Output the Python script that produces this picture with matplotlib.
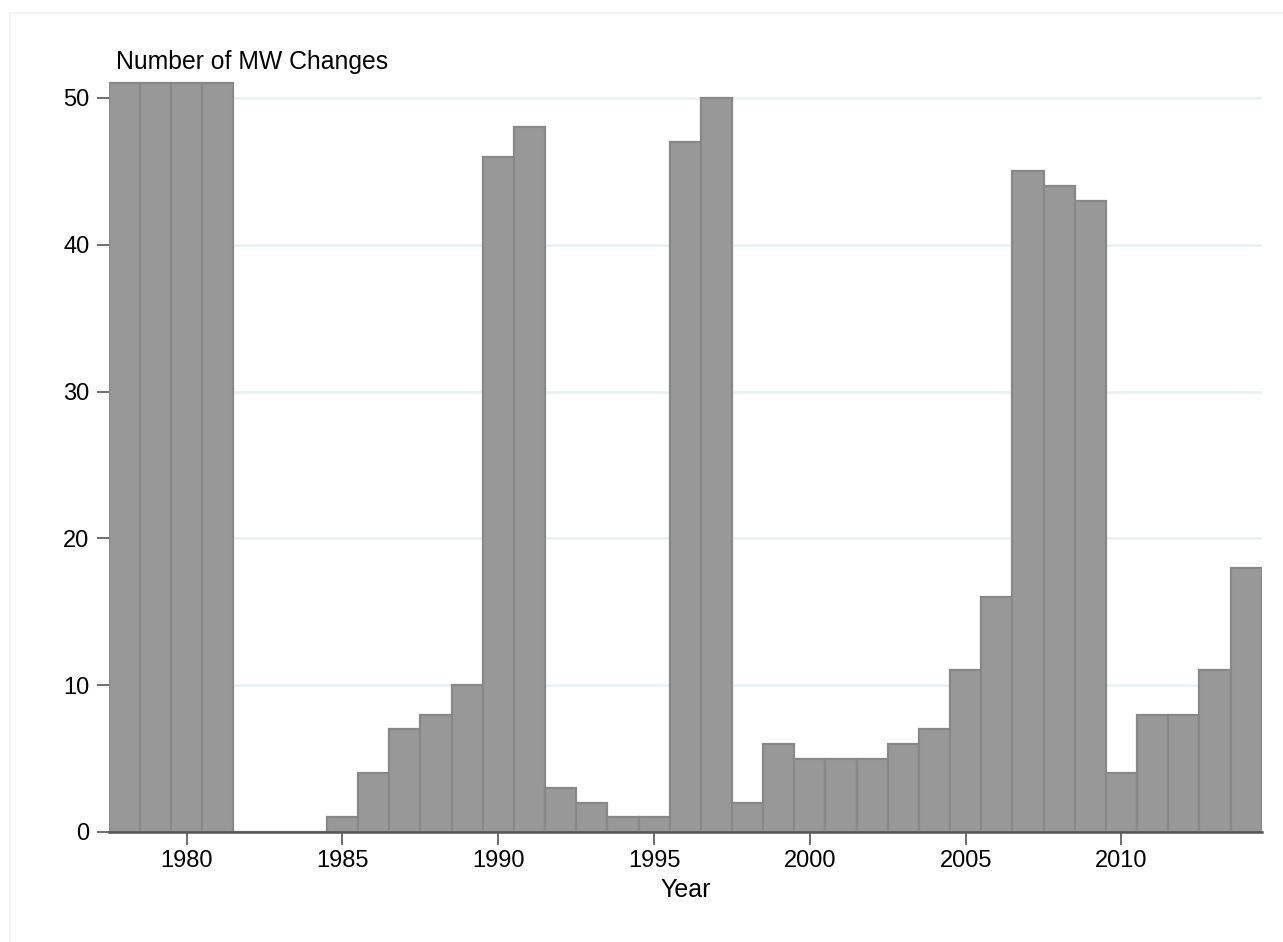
import numpy as np
import matplotlib.pyplot as plt
from matplotlib.patches import Rectangle

plt.rcParams['font.family'] = ['Liberation Sans', 'DejaVu Sans']

# minimum wage changes per year
years = np.arange(1978, 2015)
changes = [51, 51, 51, 51, 0, 0, 0,
           1, 4, 7, 8, 10, 46, 48, 3, 2, 1, 1, 47, 50, 2,
           6, 5, 5, 5, 6, 7, 11, 16, 45, 44, 43, 4, 8, 8, 11, 18]
xticks = [1980, 1985, 1990, 1995, 2000, 2005, 2010]
yticks = [0, 10, 20, 30, 40, 50]

fig = plt.figure(figsize=(12.83, 9.42), dpi=100)
fig.patches.append(Rectangle((10 / 1283, -0.1), 1.2, 1.1 - 13 / 942,
                             transform=fig.transFigure, fill=False,
                             edgecolor='#f2f4f4', linewidth=1.5))

ax = fig.add_axes([0.0848, 0.1168, 0.8986, 0.8104])

ax.bar(years, changes, width=1.0, color='#989898', edgecolor='#888888',
       linewidth=1.6, zorder=2)

ax.set_xlim(1977.5, 2014.5)
ax.set_ylim(0, 52)
ax.set_xticks(xticks)
ax.set_yticks(yticks)
ax.grid(axis='y', color='#e9f1f2', linewidth=1.8, zorder=0)
ax.set_axisbelow(True)

for s in ['top', 'right', 'left']:
    ax.spines[s].set_visible(False)
ax.spines['bottom'].set_color('#555555')
ax.spines['bottom'].set_linewidth(1.8)
ax.spines['bottom'].set_zorder(3)

ax.tick_params(axis='x', length=9, width=1.2, color='#555555',
               labelsize=17, pad=4)
ax.tick_params(axis='y', length=9, width=1.2, color='#555555',
               labelsize=17, pad=5)

ax.set_xlabel('Year', fontsize=18, labelpad=4)
fig.text(116 / 1283, 1 - 62 / 942, 'Number of MW Changes', fontsize=17.8,
         ha='left', va='center')

fig.savefig('out.png', dpi=100)
